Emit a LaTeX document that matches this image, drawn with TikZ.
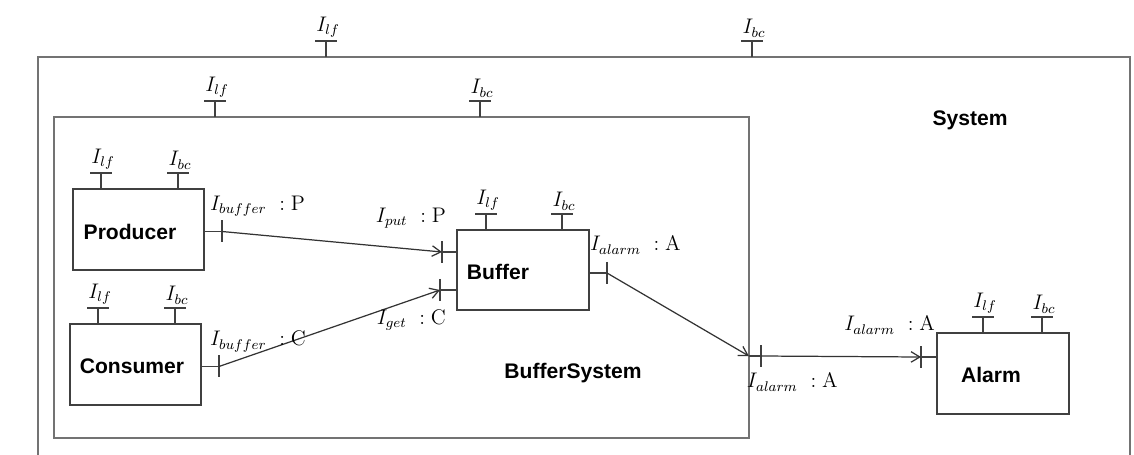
\documentclass[tikz,border=0pt]{standalone}
\usepackage{fontspec}
\setsansfont{Liberation Sans}
\usetikzlibrary{positioning, arrows.meta, calc}
\tikzset{
    comp/.style={rectangle, draw=black!75, line width=0.8pt, inner sep=0pt, outer sep=0pt, anchor=north west},
    frame/.style={comp, draw=black!55, line width=1.1pt},
    comp name/.style={font=\large\sffamily\bfseries, inner sep=1pt},
    port/.style={draw=black!75, line width=0.8pt},
    port label/.style={font=\large, inner sep=1pt},
    link/.style={draw=black!80, line width=0.7pt, -{Straight Barb[length=5pt, width=6pt]}},
}

\begin{document}
\begin{tikzpicture}[x=0.02cm, y=-0.02cm]
\clip (0,0) rectangle (1134,454);
% containers
\node[frame, minimum width=21.84cm, minimum height=8.6cm] (system) at (38,57) {};
\node[frame, minimum width=13.9cm, minimum height=6.42cm] (bufsys) at (54,117) {};
% components
\node[comp, minimum width=2.62cm, minimum height=1.62cm] (producer) at (73,189) {};
\node[comp, minimum width=2.62cm, minimum height=1.62cm] (consumer) at (70,324) {};
\node[comp, minimum width=2.64cm, minimum height=1.6cm] (buffer) at (457,230) {};
\node[comp, minimum width=2.64cm, minimum height=1.62cm] (alarm) at (937,333) {};
\node[comp name] (sysname) at (970,120) {System};
\node[comp name] (bsname) at (573,373) {BufferSystem};
\node[comp name] (prodname) at (130,232) {Producer};
\node[comp name] (consname) at (132,366) {Consumer};
\node[comp name] (bufname) at (498,272) {Buffer};
\node[comp name] (alarmname) at (991,375) {Alarm};
% provided interfaces on top
\foreach \n/\a/\b in {system/288/714, bufsys/161/426, producer/28/105, consumer/28/105, buffer/29/105, alarm/46/105}{
  \foreach \o/\s in {\a/lf, \b/bc}{
    \draw[port] ($(\n.north west)+(\o,0)$) -- ++(0,-16) coordinate (top) ++(-11,0) -- ++(22,0);
    \node[port label, above=1pt] at ($(top)+(2,0)$) {$I_{\s}$};
  }
}
% required / provided ports at the sides
\draw[port] ($(producer.east)+(0,2)$) -- ++(18,0) coordinate (p out) ++(0,-11) -- ++(0,22);
\draw[port] ($(consumer.east)+(0,2)$) -- ++(18,0) coordinate (c out) ++(0,-11) -- ++(0,22);
\draw[port] ($(buffer.north west)+(0,22)$) -- ++(-15,0) coordinate (b put) ++(0,-11) -- ++(0,22);
\draw[port] ($(buffer.south west)+(0,-20)$) -- ++(-17,0) coordinate (b get) ++(0,-11) -- ++(0,22);
\draw[port] ($(buffer.east)+(0,3)$) -- ++(18,0) coordinate (b alarm) ++(0,-11) -- ++(0,22);
\coordinate (bs edge) at ($(bufsys.north east)+(0,239)$);
\draw[port] (bs edge) -- ++(12,0) coordinate (bs alarm) ++(0,-11) -- ++(0,22);
\draw[port] ($(alarm.north west)+(0,24)$) -- ++(-16,0) coordinate (a in) ++(0,-11) -- ++(0,22);
% connectors
\draw[link] (p out) -- (b put);
\draw[link] (c out) -- (b get);
\draw[link] (b alarm) -- (bs edge);
\draw[link] (bs alarm) -- (a in);
% port labels
\node[port label, anchor=west] (lp out) at ($(p out)+(-14,-25)$) {$I_{buffer}\ :\mathrm{P}$};
\node[port label, anchor=west] (lc out) at ($(c out)+(-11,-25)$) {$I_{buffer}\ :\mathrm{C}$};
\node[port label, anchor=east] (lb put) at ($(b put)+(6,-34)$) {$I_{put}\ :\mathrm{P}$};
\node[port label, anchor=east] (lb get) at ($(b get)+(8,30)$) {$I_{get}\ :\mathrm{C}$};
\node[port label, anchor=west] (lb alarm) at ($(b alarm)+(-19,-28)$) {$I_{alarm}\ :\mathrm{A}$};
\node[port label, anchor=west] (lbs alarm) at ($(bs alarm)+(-16,26)$) {$I_{alarm}\ :\mathrm{A}$};
\node[port label, anchor=east] (la in) at ($(a in)+(16,-32)$) {$I_{alarm}\ :\mathrm{A}$};
\end{tikzpicture}
\end{document}
